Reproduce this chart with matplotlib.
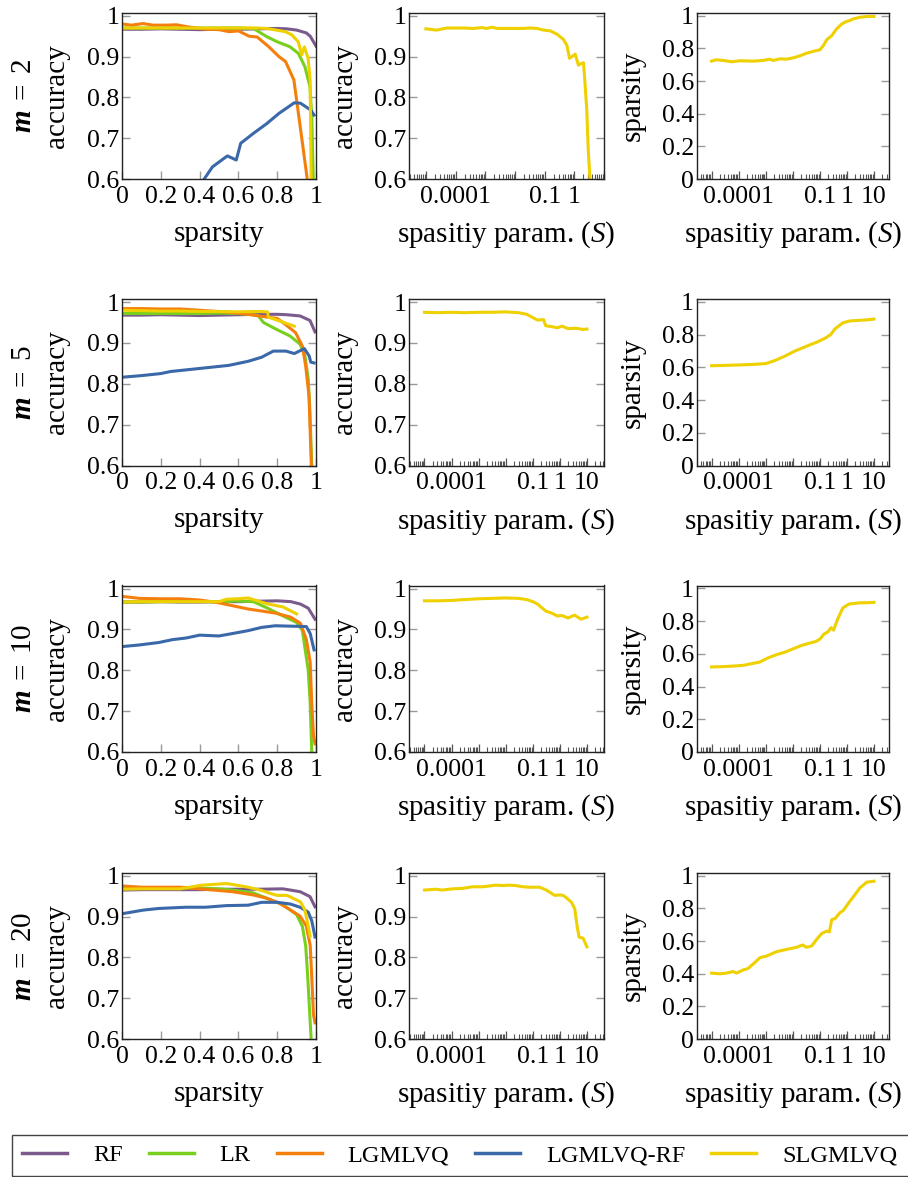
import numpy as np
import matplotlib
matplotlib.use("Agg")
import matplotlib.pyplot as plt
from matplotlib.ticker import FixedLocator, FuncFormatter, LogLocator, NullFormatter
from matplotlib.lines import Line2D
from matplotlib.patches import Rectangle

plt.rcParams['font.family'] = ['Liberation Serif', 'DejaVu Serif']
plt.rcParams['mathtext.fontset'] = 'custom'
plt.rcParams['mathtext.rm'] = 'Liberation Serif'
plt.rcParams['mathtext.it'] = 'Liberation Serif:italic'
plt.rcParams['mathtext.bf'] = 'Liberation Serif:italic:bold'

C_RF = '#7b5a8c'
C_LR = '#78cf1e'
C_LG = '#f57f0c'
C_LGRF = '#3a68a8'
C_SL = '#efd000'

methods = ['RF', 'LR', 'LGMLVQ', 'LGMLVQ-RF', 'SLGMLVQ']
m_values = [2, 5, 10, 20]

# ---- m = 2 ----
rf2_x = [0, 0.1, 0.2, 0.3, 0.4, 0.5, 0.6, 0.7, 0.8, 0.85, 0.9, 0.95, 0.97, 1.0]
rf2_y = [0.967, 0.967, 0.968, 0.967, 0.966, 0.967, 0.967, 0.968, 0.969, 0.968, 0.965, 0.958, 0.950, 0.926]
lr2_x = [0, 0.1, 0.2, 0.3, 0.4, 0.5, 0.6, 0.677, 0.746, 0.797, 0.866, 0.909, 0.943, 0.969, 0.978, 0.986, 0.99]
lr2_y = [0.970, 0.970, 0.970, 0.970, 0.970, 0.970, 0.970, 0.969, 0.949, 0.937, 0.924, 0.908, 0.875, 0.826, 0.753, 0.600, 0.55]
lg2_x = [0, 0.05, 0.108, 0.16, 0.227, 0.28, 0.35, 0.433, 0.5, 0.552, 0.6, 0.655, 0.697, 0.757, 0.809, 0.843, 0.886, 0.921, 0.955, 0.97]
lg2_y = [0.980, 0.977, 0.981, 0.977, 0.977, 0.978, 0.972, 0.967, 0.966, 0.961, 0.963, 0.950, 0.948, 0.924, 0.900, 0.888, 0.843, 0.72, 0.60, 0.55]
lgrf2_x = [0.39, 0.423, 0.466, 0.543, 0.589, 0.612, 0.677, 0.746, 0.809, 0.888, 0.92, 0.974, 0.99]
lgrf2_y = [0.577, 0.600, 0.630, 0.657, 0.647, 0.688, 0.712, 0.736, 0.761, 0.787, 0.786, 0.769, 0.757]
sl2_x = [0, 0.1, 0.2, 0.3, 0.4, 0.5, 0.6, 0.7, 0.746, 0.843, 0.876, 0.909, 0.926, 0.94, 0.959, 0.97, 0.975, 0.98]
sl2_y = [0.970, 0.970, 0.970, 0.970, 0.970, 0.970, 0.970, 0.970, 0.969, 0.961, 0.953, 0.936, 0.904, 0.924, 0.896, 0.843, 0.60, 0.55]

S2 = [1e-5, 2.3e-5, 5.1e-5, 1.9e-4, 4.0e-4, 7.8e-4, 1.1e-3, 1.7e-3, 2.5e-3, 6.9e-3, 0.019, 0.032, 0.055, 0.091,
      0.155, 0.26, 0.43, 0.56, 0.69, 0.83, 1.07, 1.38, 1.58, 2.04, 2.29, 2.63, 2.95, 3.39, 3.6]
acc2 = [0.968, 0.965, 0.970, 0.970, 0.969, 0.971, 0.969, 0.972, 0.969, 0.969, 0.969, 0.970, 0.969, 0.965,
        0.963, 0.955, 0.942, 0.928, 0.896, 0.900, 0.906, 0.879, 0.882, 0.885, 0.835, 0.769, 0.671, 0.598, 0.55]
Ssp2 = [1e-5, 1.5e-5, 2.7e-5, 5.5e-5, 1.1e-4, 3.5e-4, 8.1e-4, 1.4e-3, 1.9e-3, 3.4e-3, 5.9e-3, 0.0105, 0.018, 0.032,
        0.058, 0.1, 0.135, 0.178, 0.275, 0.417, 0.646, 0.977, 1.29, 1.70, 3.02, 5.37, 10]
sp2 = [0.722, 0.730, 0.726, 0.718, 0.724, 0.722, 0.726, 0.734, 0.726, 0.736, 0.734, 0.742, 0.754, 0.770,
       0.782, 0.791, 0.817, 0.852, 0.878, 0.919, 0.949, 0.965, 0.970, 0.980, 0.990, 0.995, 0.995]

# ---- m = 5 ----
rf5_x = [0, 0.1, 0.2, 0.3, 0.4, 0.5, 0.6, 0.7, 0.8, 0.85, 0.918, 0.969, 0.995]
rf5_y = [0.968, 0.968, 0.969, 0.968, 0.967, 0.968, 0.969, 0.970, 0.970, 0.969, 0.966, 0.955, 0.927]
lr5_x = [0, 0.1, 0.2, 0.3, 0.4, 0.5, 0.6, 0.7, 0.729, 0.797, 0.866, 0.918, 0.943, 0.960, 0.969, 0.978, 0.985]
lr5_y = [0.972, 0.972, 0.972, 0.972, 0.972, 0.973, 0.972, 0.968, 0.950, 0.933, 0.917, 0.897, 0.868, 0.811, 0.73, 0.60, 0.55]
lg5_x = [0, 0.1, 0.2, 0.3, 0.4, 0.55, 0.65, 0.72, 0.8, 0.843, 0.895, 0.93, 0.947, 0.964, 0.976, 0.982]
lg5_y = [0.984, 0.984, 0.983, 0.983, 0.980, 0.975, 0.970, 0.965, 0.960, 0.945, 0.925, 0.892, 0.843, 0.770, 0.60, 0.55]
lgrf5_x = [0, 0.1, 0.2, 0.25, 0.35, 0.45, 0.55, 0.65, 0.72, 0.78, 0.845, 0.888, 0.94, 0.965, 0.973, 0.99]
lgrf5_y = [0.816, 0.820, 0.825, 0.830, 0.835, 0.840, 0.845, 0.855, 0.865, 0.880, 0.880, 0.874, 0.886, 0.868, 0.853, 0.851]
sl5_x = [0, 0.1, 0.2, 0.3, 0.4, 0.5, 0.6, 0.7, 0.75, 0.755, 0.81, 0.888]
sl5_y = [0.980, 0.979, 0.978, 0.978, 0.977, 0.977, 0.976, 0.977, 0.976, 0.963, 0.954, 0.941]

S5 = [1e-5, 3e-5, 1e-4, 3e-4, 1e-3, 3e-3, 0.01, 0.03, 0.06, 0.1, 0.15, 0.25, 0.3, 0.5, 0.8, 1.2, 2, 4, 7, 10]
acc5 = [0.975, 0.974, 0.975, 0.974, 0.975, 0.975, 0.976, 0.974, 0.970, 0.962, 0.956, 0.957, 0.942, 0.940,
        0.937, 0.941, 0.935, 0.936, 0.933, 0.934]
Ssp5 = [1e-5, 5e-5, 2.5e-4, 1e-3, 2.2e-3, 5e-3, 1.2e-2, 2.8e-2, 5e-2, 8.5e-2, 0.155, 0.25, 0.36, 0.7, 1.3, 2.6, 5, 10]
sp5 = [0.610, 0.613, 0.617, 0.623, 0.642, 0.668, 0.700, 0.725, 0.742, 0.757, 0.778, 0.800, 0.835, 0.872,
       0.884, 0.887, 0.890, 0.895]

# ---- m = 10 ----
rf10_x = [0, 0.1, 0.2, 0.3, 0.4, 0.5, 0.6, 0.7, 0.8, 0.87, 0.92, 0.96, 0.995]
rf10_y = [0.967, 0.967, 0.968, 0.967, 0.967, 0.968, 0.968, 0.969, 0.970, 0.968, 0.962, 0.952, 0.925]
lr10_x = [0, 0.1, 0.2, 0.3, 0.4, 0.54, 0.57, 0.677, 0.746, 0.83, 0.9, 0.93, 0.96, 0.97, 0.978, 0.985]
lr10_y = [0.967, 0.967, 0.968, 0.968, 0.968, 0.967, 0.970, 0.968, 0.953, 0.933, 0.917, 0.897, 0.800, 0.72, 0.60, 0.55]
lg10_x = [0, 0.09, 0.2, 0.3, 0.4, 0.49, 0.57, 0.65, 0.72, 0.79, 0.87, 0.92, 0.95, 0.97, 0.978, 0.987, 0.995]
lg10_y = [0.981, 0.976, 0.975, 0.975, 0.972, 0.966, 0.958, 0.950, 0.945, 0.940, 0.930, 0.915, 0.876, 0.820,
          0.72, 0.64, 0.62]
lgrf10_x = [0, 0.09, 0.19, 0.26, 0.33, 0.4, 0.5, 0.57, 0.65, 0.72, 0.79, 0.87, 0.95, 0.97, 0.99]
lgrf10_y = [0.858, 0.862, 0.868, 0.875, 0.879, 0.886, 0.884, 0.890, 0.897, 0.905, 0.909, 0.908, 0.907, 0.89, 0.85]
sl10_x = [0, 0.1, 0.2, 0.3, 0.4, 0.5, 0.54, 0.6, 0.65, 0.677, 0.746, 0.83, 0.9]
sl10_y = [0.967, 0.968, 0.968, 0.968, 0.968, 0.968, 0.974, 0.975, 0.977, 0.973, 0.963, 0.955, 0.938]

S10 = [1e-5, 3e-5, 1e-4, 3e-4, 1e-3, 3e-3, 1e-2, 3e-2, 6e-2, 0.1, 0.15, 0.2, 0.3, 0.5, 0.8, 1.2, 2, 3.5, 6, 10]
acc10 = [0.970, 0.970, 0.971, 0.973, 0.975, 0.976, 0.977, 0.976, 0.973, 0.968, 0.962, 0.955, 0.945, 0.940,
         0.933, 0.934, 0.928, 0.935, 0.925, 0.930]
Ssp10 = [1e-5, 2.5e-5, 6e-5, 1.5e-4, 3e-4, 6e-4, 1.2e-3, 2.5e-3, 5e-3, 1e-2, 2e-2, 4e-2, 7e-2, 0.1, 0.14,
         0.2, 0.26, 0.32, 0.45, 0.7, 1.2, 3, 6, 10]
sp10 = [0.520, 0.522, 0.525, 0.530, 0.540, 0.550, 0.575, 0.595, 0.610, 0.630, 0.650, 0.665, 0.675, 0.690,
        0.720, 0.735, 0.760, 0.745, 0.810, 0.880, 0.905, 0.912, 0.913, 0.915]

# ---- m = 20 ----
rf20_x = [0, 0.1, 0.2, 0.3, 0.4, 0.5, 0.6, 0.7, 0.83, 0.918, 0.969, 0.995]
rf20_y = [0.965, 0.966, 0.966, 0.966, 0.966, 0.967, 0.967, 0.967, 0.968, 0.961, 0.949, 0.924]
lr20_x = [0, 0.1, 0.2, 0.3, 0.4, 0.5, 0.57, 0.677, 0.746, 0.83, 0.9, 0.93, 0.947, 0.957, 0.975, 0.98]
lr20_y = [0.969, 0.970, 0.970, 0.970, 0.970, 0.968, 0.965, 0.958, 0.945, 0.929, 0.905, 0.876, 0.828, 0.755, 0.60, 0.55]
lg20_x = [0, 0.1, 0.2, 0.3, 0.4, 0.57, 0.677, 0.746, 0.81, 0.866, 0.918, 0.95, 0.97, 0.978, 0.987, 0.995]
lg20_y = [0.975, 0.972, 0.972, 0.972, 0.968, 0.961, 0.953, 0.945, 0.933, 0.917, 0.901, 0.877, 0.830, 0.755, 0.66, 0.64]
lgrf20_x = [0, 0.11, 0.19, 0.33, 0.43, 0.54, 0.65, 0.72, 0.8, 0.866, 0.918, 0.96, 0.978, 0.995]
lgrf20_y = [0.907, 0.916, 0.920, 0.923, 0.923, 0.927, 0.928, 0.935, 0.935, 0.931, 0.923, 0.911, 0.89, 0.85]
sl20_x = [0, 0.1, 0.2, 0.3, 0.41, 0.54, 0.65, 0.72, 0.77, 0.8, 0.85, 0.886, 0.92, 0.943, 0.96, 0.97]
sl20_y = [0.967, 0.968, 0.968, 0.968, 0.977, 0.981, 0.972, 0.964, 0.956, 0.952, 0.952, 0.944, 0.936, 0.916, 0.876, 0.852]

S20 = [1e-5, 2.6e-5, 4.5e-5, 1.1e-4, 2.5e-4, 5.9e-4, 1.4e-3, 2.5e-3, 4.4e-3, 7.8e-3, 0.0135, 0.024, 0.043,
       0.076, 0.178, 0.316, 0.417, 0.646, 1.0, 1.32, 1.74, 2.69, 3.55, 4.37, 5.13, 7.24, 10]
acc20 = [0.965, 0.967, 0.965, 0.968, 0.969, 0.973, 0.973, 0.975, 0.977, 0.976, 0.977, 0.976, 0.973, 0.972,
         0.972, 0.965, 0.960, 0.952, 0.953, 0.952, 0.946, 0.935, 0.919, 0.875, 0.850, 0.847, 0.826]
Ssp20 = [1e-5, 2.0e-5, 3.5e-5, 6.3e-5, 8.3e-5, 1.5e-4, 2.2e-4, 3.5e-4, 6.2e-4, 1.1e-3, 2.5e-3, 5.9e-3, 0.0138,
         0.023, 0.032, 0.050, 0.076, 0.117, 0.178, 0.224, 0.275, 0.363, 0.55, 0.74, 1.29, 1.70, 3.02, 5.37, 10]
sp20 = [0.404, 0.400, 0.404, 0.414, 0.404, 0.424, 0.432, 0.461, 0.499, 0.509, 0.535, 0.549, 0.562, 0.576,
        0.562, 0.570, 0.610, 0.646, 0.661, 0.656, 0.731, 0.737, 0.773, 0.788, 0.844, 0.869, 0.925, 0.960, 0.966]

rows = [
    ([(rf2_x, rf2_y), (lr2_x, lr2_y), (lg2_x, lg2_y), (lgrf2_x, lgrf2_y), (sl2_x, sl2_y)], (S2, acc2), (Ssp2, sp2)),
    ([(rf5_x, rf5_y), (lr5_x, lr5_y), (lg5_x, lg5_y), (lgrf5_x, lgrf5_y), (sl5_x, sl5_y)], (S5, acc5), (Ssp5, sp5)),
    ([(rf10_x, rf10_y), (lr10_x, lr10_y), (lg10_x, lg10_y), (lgrf10_x, lgrf10_y), (sl10_x, sl10_y)], (S10, acc10), (Ssp10, sp10)),
    ([(rf20_x, rf20_y), (lr20_x, lr20_y), (lg20_x, lg20_y), (lgrf20_x, lgrf20_y), (sl20_x, sl20_y)], (S20, acc20), (Ssp20, sp20)),
]
colors = [C_RF, C_LR, C_LG, C_LGRF, C_SL]

W, H = 908, 1177
TS = 18.5   # tick label size
LS = 21     # axis label size
LW = 2.2

fig = plt.figure(figsize=(W / 100, H / 100), dpi=100)

col_px = [(122, 194), (409, 195), (696.7, 192.3)]
row_top = [12.7, 299, 585.5, 872.7]
ax_h = 166.5


def frame(ax):
    for sp in ax.spines.values():
        sp.set_linewidth(1.0)
        sp.set_color('#222222')
    ax.tick_params(axis='y', direction='in', left=True, right=True, length=6, width=1,
                   color='#9a9a9a', labelsize=TS, pad=2)


def log_axis(ax, labelled, xmax):
    ax.set_xscale('log')
    ax.set_xlim(10 ** -5.57, xmax)
    decades = [1e-5, 1e-4, 1e-3, 1e-2, 1e-1, 1, 10]
    ax.xaxis.set_major_locator(FixedLocator(decades))
    names = {1e-4: '0.0001', 1e-1: '0.1', 1: '1', 10: '10'}
    ax.xaxis.set_major_formatter(FuncFormatter(
        lambda v, p: next((names[k] for k in names if k in labelled and abs(v - k) < k * 1e-6), '')))
    ax.xaxis.set_minor_locator(LogLocator(base=10, subs=np.arange(2, 10), numticks=50))
    ax.xaxis.set_minor_formatter(NullFormatter())
    ax.tick_params(axis='x', which='major', direction='in', bottom=True, top=False, length=6,
                   width=0.9, color='#555555', labelsize=TS, pad=5)
    ax.tick_params(axis='x', which='minor', direction='in', bottom=True, top=False, length=3.5,
                   width=0.8, color='#555555')


for r, (left_series, (s_acc, acc), (s_sp, sp)) in enumerate(rows):
    axes = []
    for c in range(3):
        x0, w = col_px[c]
        axes.append(fig.add_axes([x0 / W, 1 - (row_top[r] + ax_h) / H, w / W, ax_h / H]))
    a1, a2, a3 = axes

    for (xs, ys), col in zip(left_series, colors):
        a1.plot(xs, ys, color=col, lw=LW, solid_joinstyle='round')
    a1.set_xlim(0, 1)
    a1.set_ylim(0.6, 1.0075)
    frame(a1)
    a1.set_xticks([0, 0.2, 0.4, 0.6, 0.8, 1])
    a1.set_xticklabels(['0', '0.2', '0.4', '0.6', '0.8', '1'])
    a1.set_yticks([0.6, 0.7, 0.8, 0.9, 1])
    a1.set_yticklabels(['0.6', '0.7', '0.8', '0.9', '1'])
    a1.tick_params(axis='x', direction='in', bottom=True, top=False, length=6, width=1,
                   color='#9a9a9a', labelsize=TS, pad=5)
    a1.set_xlabel('sparsity', fontsize=LS, va='center')
    a1.xaxis.set_label_coords(0.5, -0.33)
    a1.set_ylabel('accuracy', fontsize=LS, va='center')
    a1.yaxis.set_label_coords(-0.335, 0.5)

    a2.plot(s_acc, acc, color=C_SL, lw=LW, solid_joinstyle='round')
    if r == 0:
        log_axis(a2, [1e-4, 1e-1, 1], 10 ** 1.0)
    else:
        log_axis(a2, [1e-4, 1e-1, 1, 10], 10 ** 1.63)
    a2.set_ylim(0.6, 1.0075)
    frame(a2)
    a2.set_yticks([0.6, 0.7, 0.8, 0.9, 1])
    a2.set_yticklabels(['0.6', '0.7', '0.8', '0.9', '1'])
    a2.set_xlabel('spasitiy param. ($S$)', fontsize=LS, va='center')
    a2.xaxis.set_label_coords(0.5, -0.335)
    a2.set_ylabel('accuracy', fontsize=LS, va='center')
    a2.yaxis.set_label_coords(-0.328, 0.5)

    a3.plot(s_sp, sp, color=C_SL, lw=LW, solid_joinstyle='round')
    log_axis(a3, [1e-4, 1e-1, 1, 10], 10 ** 1.555)
    a3.set_xlim(10 ** -5.55, 10 ** 1.555)
    a3.set_ylim(0, 1.018)
    frame(a3)
    a3.set_yticks([0, 0.2, 0.4, 0.6, 0.8, 1])
    a3.set_yticklabels(['0', '0.2', '0.4', '0.6', '0.8', '1'])
    a3.set_xlabel('spasitiy param. ($S$)', fontsize=LS, va='center')
    a3.xaxis.set_label_coords(0.5, -0.335)
    a3.set_ylabel('sparsity', fontsize=LS, va='center')
    a3.yaxis.set_label_coords(-0.331, 0.5)

    fig.text(24 / W, 1 - (row_top[r] + ax_h / 2) / H, r'$\mathbf{m}\;=\;%d$' % m_values[r],
             rotation=90, ha='center', va='center', fontsize=LS)

# legend
handles = [Line2D([], [], color=c, lw=LW + 0.3) for c in colors]
fig.legend(handles, methods, loc='center left', bbox_to_anchor=(22 / W, 1 - 1155 / H),
           ncol=5, frameon=False, fontsize=17.5, handlelength=1.85, handletextpad=1.07,
           columnspacing=1.07, borderpad=0, borderaxespad=0)
fig.patches.append(Rectangle((11.6 / W, 1 - 1176 / H), 1.0, 41 / H, transform=fig.transFigure,
                             fill=False, edgecolor='#444444', lw=1.0))

fig.savefig('out.png', dpi=100)
